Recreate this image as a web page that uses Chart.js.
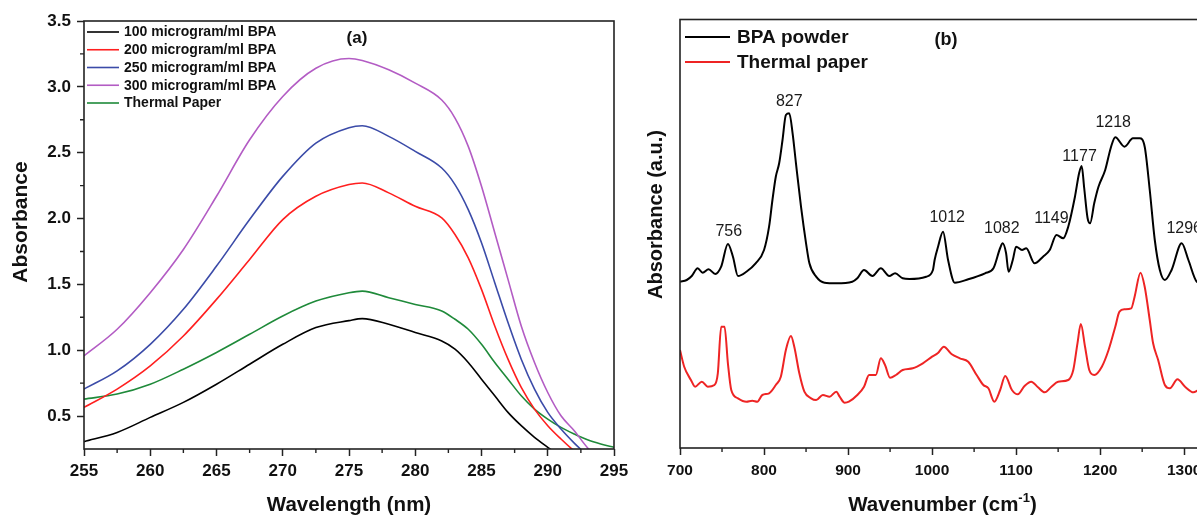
<!DOCTYPE html>
<html><head><meta charset="utf-8">
<script src="https://cdn.jsdelivr.net/npm/chart.js@4.4.1/dist/chart.umd.min.js"></script>
<style>
html,body{margin:0;padding:0;background:#fff;overflow:hidden;width:1197px;height:517px;position:relative;}
#wa{position:absolute;left:0;top:0;width:640px;height:517px;}
#wb{position:absolute;left:640px;top:0;width:570px;height:517px;}
</style></head><body>
<div id="wa"><canvas id="ca"></canvas></div>
<div id="wb"><canvas id="cb"></canvas></div>
<script>
// ---------- Panel (a): UV-Vis ----------
const wavelength = [255,257.5,260,262.5,265,267.5,270,272.5,275,276,278,280,282,283,284,285,286,287,288,289,290,291,292,293,294,295];
const abs100 = [0.306,0.376,0.49,0.604,0.742,0.894,1.045,1.172,1.225,1.24,1.197,1.134,1.07,1.008,0.907,0.78,0.654,0.528,0.427,0.339,0.263,0.19,null,null,null,null];
const abs200 = [0.566,0.705,0.881,1.108,1.386,1.689,1.992,2.169,2.258,2.27,2.195,2.093,2.005,1.879,1.702,1.462,1.184,0.932,0.717,0.553,0.427,0.326,0.235,0.16,null,null];
const abs250 = [0.705,0.843,1.045,1.311,1.639,1.992,2.32,2.573,2.69,2.705,2.624,2.51,2.384,2.258,2.068,1.816,1.513,1.21,0.932,0.705,0.528,0.402,0.295,0.2,null,null];
const abs300 = [0.957,1.159,1.437,1.765,2.169,2.598,2.927,3.141,3.215,3.2,3.129,3.028,2.9,2.763,2.548,2.245,1.892,1.538,1.184,0.907,0.679,0.502,0.389,0.26,0.17,null];
const absPaper = [0.629,0.667,0.742,0.856,0.983,1.121,1.26,1.373,1.437,1.449,1.399,1.348,1.298,1.235,1.159,1.045,0.907,0.78,0.654,0.553,0.477,0.414,0.364,0.32,0.288,0.263];
const seriesNamesA = ['100 microgram/ml BPA','200 microgram/ml BPA','250 microgram/ml BPA','300 microgram/ml BPA','Thermal Paper'];
const seriesColorsA = ['#000000','#ff1f1f','#3b4ba8','#b35cc4','#1f8a3a'];
const xTicksA = [255,260,265,270,275,280,285,290,295];
const yTicksA = [0.5,1.0,1.5,2.0,2.5,3.0,3.5];

// ---------- Panel (b): FTIR ----------
const bpaWavenumber = [700,708,714,721,727,734,742,749,757,763,769,779,790,800,806,810,814,818,822,826,830,834,838,844,850,854,862,872,886,905,911,919,929,939,949,956,965,973,993,1001,1003,1007,1013,1019,1027,1043,1063,1073,1081,1084,1088,1091,1096,1100,1107,1112,1122,1132,1140,1148,1156,1162,1170,1175,1178,1181,1185,1188,1193,1198,1206,1213,1218,1229,1239,1247,1253,1259,1265,1271,1277,1285,1297,1305,1315,1320];
const bpaAbsorbance = [1.663,1.68,1.72,1.797,1.753,1.787,1.74,1.813,2.04,1.913,1.72,1.763,1.847,1.98,2.213,2.48,2.713,2.847,3.08,3.33,3.347,3.147,2.847,2.413,2.047,1.847,1.713,1.653,1.647,1.663,1.697,1.78,1.72,1.797,1.72,1.747,1.697,1.69,1.713,1.78,1.88,2.01,2.163,1.88,1.653,1.687,1.747,1.797,2.0,2.047,1.95,1.763,1.88,2.013,1.98,1.997,1.847,1.913,1.98,2.13,2.097,2.213,2.513,2.75,2.82,2.6,2.3,2.247,2.45,2.613,2.78,3.013,3.107,3.013,3.097,3.097,3.013,2.58,2.08,1.78,1.68,1.78,2.047,1.88,1.663,1.65];
const paperWavenumber = [700,705,713,718,726,733,741,745,749,753,757,761,769,779,786,792,798,806,814,820,826,832,836,842,848,856,862,870,878,886,890,896,901,911,919,925,933,939,944,950,957,965,977,989,1000,1007,1014,1023,1033,1043,1053,1061,1067,1074,1081,1087,1095,1102,1110,1118,1126,1134,1142,1150,1162,1168,1173,1177,1182,1187,1193,1202,1210,1218,1223,1229,1237,1241,1248,1253,1259,1263,1269,1277,1283,1292,1301,1311,1315,1320];
const paperAbsorbance = [0.98,0.813,0.68,0.613,0.663,0.613,0.63,0.747,1.213,1.213,0.847,0.58,0.497,0.463,0.473,0.463,0.53,0.547,0.63,0.713,0.98,1.12,1.013,0.747,0.563,0.497,0.48,0.53,0.513,0.563,0.513,0.453,0.463,0.53,0.613,0.73,0.73,0.897,0.83,0.703,0.73,0.78,0.797,0.847,0.913,0.95,1.013,0.94,0.897,0.863,0.73,0.63,0.597,0.463,0.58,0.72,0.58,0.537,0.62,0.663,0.607,0.557,0.613,0.663,0.68,0.78,1.047,1.24,1.013,0.78,0.73,0.813,0.98,1.213,1.363,1.387,1.397,1.513,1.753,1.613,1.28,1.047,0.88,0.63,0.597,0.687,0.613,0.557,0.57,0.6];
const seriesNamesB = ['BPA powder','Thermal paper'];
const seriesColorsB = ['#000000','#ee2424'];
const xTicksB = [700,800,900,1000,1100,1200,1300];
const peakLabels = ['756','827','1012','1082','1149','1177','1218','1296'];
const peakLabelX = [758,830,1018,1083,1142,1175.5,1215.5,1300];
const peakLabelY = [2.16,3.46,2.305,2.19,2.29,2.91,3.257,2.19];

const FONT = "'Liberation Sans', Arial, Helvetica, sans-serif";
const INK = '#111111';
const FRAME = '#222222';
Chart.defaults.font.family = FONT;
Chart.defaults.color = INK;

// Decoration plugin: frame, minor ticks, inside legend, panel letter, peak labels, axis titles
const deco = {
  id: 'deco',
  afterDatasetsDraw(chart, args, o) {
    const ctx = chart.ctx, ca = chart.chartArea;
    const xs = chart.scales.x, ys = chart.scales.y;
    ctx.save();
    ctx.strokeStyle = FRAME; ctx.lineWidth = 1.6;
    ctx.strokeRect(ca.left, ca.top, ca.right - ca.left, ca.bottom - ca.top);
    // minor ticks
    ctx.lineWidth = 1.4; ctx.beginPath();
    if (o.xMinorStep) {
      for (let v = xs.min; v <= xs.max + 1e-9; v += o.xMinorStep) {
        if (Math.abs(v / o.xMajorStep - Math.round(v / o.xMajorStep)) < 1e-6) continue;
        const px = xs.getPixelForValue(v);
        ctx.moveTo(px, ca.bottom); ctx.lineTo(px, ca.bottom + 4);
      }
    }
    if (o.yMinorStep) {
      for (let v = Math.ceil(ys.min / o.yMinorStep) * o.yMinorStep; v <= ys.max + 1e-9; v += o.yMinorStep) {
        if (Math.abs(v / o.yMajorStep - Math.round(v / o.yMajorStep)) < 1e-6) continue;
        if (Math.abs(v - ys.min) < 1e-6) continue;
        const py = ys.getPixelForValue(v);
        ctx.moveTo(ca.left, py); ctx.lineTo(ca.left - 4, py);
      }
    }
    ctx.stroke();
    // legend inside plot
    const L = o.legend;
    ctx.font = 'bold ' + L.size + 'px ' + FONT;
    ctx.textBaseline = 'middle'; ctx.textAlign = 'left';
    chart.data.datasets.forEach((ds, i) => {
      const y = ca.top + L.top + i * L.step;
      ctx.strokeStyle = ds.borderColor; ctx.lineWidth = ds.borderWidth;
      ctx.beginPath(); ctx.moveTo(ca.left + L.x1, y); ctx.lineTo(ca.left + L.x2, y); ctx.stroke();
      ctx.fillStyle = INK;
      ctx.fillText(ds.label, ca.left + L.tx, y + 0.5);
    });
    // panel letter
    ctx.font = 'bold ' + o.letter.size + 'px ' + FONT;
    ctx.textAlign = 'center';
    ctx.fillText(o.letter.text, o.letter.x, o.letter.y);
    // peak labels
    if (o.peaks) {
      ctx.font = o.peaks.size + 'px ' + FONT;
      ctx.fillStyle = '#1a1a1a';
      o.peaks.text.forEach((t, i) => {
        ctx.fillText(t, xs.getPixelForValue(o.peaks.x[i]), ys.getPixelForValue(o.peaks.y[i]));
      });
    }
    // axis titles
    ctx.fillStyle = INK;
    const T = o.titles;
    ctx.font = 'bold ' + T.xSize + 'px ' + FONT;
    ctx.textBaseline = 'alphabetic';
    const cx = (ca.left + ca.right) / 2 + (T.xShift || 0);
    if (T.xSup) {
      const w1 = ctx.measureText(T.xText).width;
      const w3 = ctx.measureText(T.xTail).width;
      ctx.font = 'bold ' + T.supSize + 'px ' + FONT;
      const w2 = ctx.measureText(T.xSup).width;
      let x0 = cx - (w1 + w2 + w3) / 2;
      ctx.textAlign = 'left';
      ctx.font = 'bold ' + T.xSize + 'px ' + FONT;
      ctx.fillText(T.xText, x0, T.xBase);
      ctx.font = 'bold ' + T.supSize + 'px ' + FONT;
      ctx.fillText(T.xSup, x0 + w1, T.xBase - T.supRise);
      ctx.font = 'bold ' + T.xSize + 'px ' + FONT;
      ctx.fillText(T.xTail, x0 + w1 + w2, T.xBase);
    } else {
      ctx.textAlign = 'center';
      ctx.fillText(T.xText, cx, T.xBase);
    }
    ctx.save();
    ctx.font = 'bold ' + T.ySize + 'px ' + FONT;
    ctx.textAlign = 'center'; ctx.textBaseline = 'middle';
    ctx.translate(T.yX, T.yY); ctx.rotate(-Math.PI / 2);
    ctx.fillText(T.yText, 0, 0);
    ctx.restore();
    ctx.restore();
  }
};

function tickFont(size) { return { family: FONT, size: size, weight: 'bold' }; }

new Chart(document.getElementById('ca'), {
  type: 'line',
  data: {
    datasets: [abs100, abs200, abs250, abs300, absPaper].map((vals, i) => ({
      label: seriesNamesA[i],
      data: wavelength.map((w, k) => ({ x: w, y: vals[k] })),
      borderColor: seriesColorsA[i],
      backgroundColor: seriesColorsA[i],
      borderWidth: 1.6,
      pointRadius: 0,
      cubicInterpolationMode: 'monotone',
      spanGaps: false,
      clip: 0
    }))
  },
  options: {
    responsive: true, maintainAspectRatio: false, animation: false,
    layout: { padding: { left: 0, top: 21, right: 26, bottom: 0 } },
    plugins: {
      legend: { display: false }, tooltip: { enabled: false },
      deco: {
        xMinorStep: 2.5, xMajorStep: 5, yMinorStep: 0.25, yMajorStep: 0.5,
        legend: { size: 14, top: 11, step: 17.75, x1: 3, x2: 35, tx: 40 },
        letter: { text: '(a)', size: 17, x: 357, y: 38 },
        titles: { xText: 'Wavelength (nm)', xSize: 20.5, xBase: 511, yText: 'Absorbance', ySize: 21, yX: 21.5, yY: 222 }
      }
    },
    scales: {
      x: {
        type: 'linear', min: 255, max: 295,
        afterFit: s => { s.height = 68; },
        afterBuildTicks: s => { s.ticks = xTicksA.map(v => ({ value: v })); },
        ticks: { padding: 5, color: INK, font: tickFont(17), maxRotation: 0, callback: v => String(v) },
        grid: { drawOnChartArea: false, drawTicks: true, tickLength: 7, tickColor: FRAME, tickWidth: 1.5 },
        border: { display: false }
      },
      y: {
        type: 'linear', min: 0.25, max: 3.5,
        afterFit: s => { s.width = 84; },
        afterBuildTicks: s => { s.ticks = yTicksA.map(v => ({ value: v })); },
        ticks: { padding: 6, color: INK, font: tickFont(17), callback: v => Number(v).toFixed(1) },
        grid: { drawOnChartArea: false, drawTicks: true, tickLength: 7, tickColor: FRAME, tickWidth: 1.5 },
        border: { display: false }
      }
    }
  },
  plugins: [deco]
});

new Chart(document.getElementById('cb'), {
  type: 'line',
  data: {
    datasets: [
      { wn: bpaWavenumber, ab: bpaAbsorbance },
      { wn: paperWavenumber, ab: paperAbsorbance }
    ].map((s, i) => ({
      label: seriesNamesB[i],
      data: s.wn.map((w, k) => ({ x: w, y: s.ab[k] })),
      borderColor: seriesColorsB[i],
      backgroundColor: seriesColorsB[i],
      borderWidth: 2,
      pointRadius: 0,
      cubicInterpolationMode: 'monotone',
      clip: 0
    }))
  },
  options: {
    responsive: true, maintainAspectRatio: false, animation: false,
    layout: { padding: { left: 40, top: 19.5, right: 9, bottom: 0 } },
    plugins: {
      legend: { display: false }, tooltip: { enabled: false },
      deco: {
        xMinorStep: 50, xMajorStep: 100,
        legend: { size: 19, top: 17.5, step: 25, x1: 5, x2: 50, tx: 57 },
        letter: { text: '(b)', size: 18, x: 306, y: 40 },
        peaks: { text: peakLabels, x: peakLabelX, y: peakLabelY, size: 16 },
        titles: { xText: 'Wavenumber (cm', xSup: '-1', xTail: ')', supSize: 13, supRise: 9, xSize: 20.5, xBase: 511, xShift: 2,
                  yText: 'Absorbance (a.u.)', ySize: 20, yX: 16, yY: 214.5 }
      }
    },
    scales: {
      x: {
        type: 'linear', min: 700, max: 1320,
        afterFit: s => { s.height = 69; },
        afterBuildTicks: s => { s.ticks = xTicksB.map(v => ({ value: v })); },
        ticks: { padding: 6, color: INK, font: tickFont(15.5), maxRotation: 0, callback: v => String(v) },
        grid: { drawOnChartArea: false, drawTicks: true, tickLength: 7, tickColor: FRAME, tickWidth: 1.5 },
        border: { display: false }
      },
      y: { type: 'linear', display: false, min: 0, max: 4.285 }
    }
  },
  plugins: [deco]
});
</script>
</body></html>
